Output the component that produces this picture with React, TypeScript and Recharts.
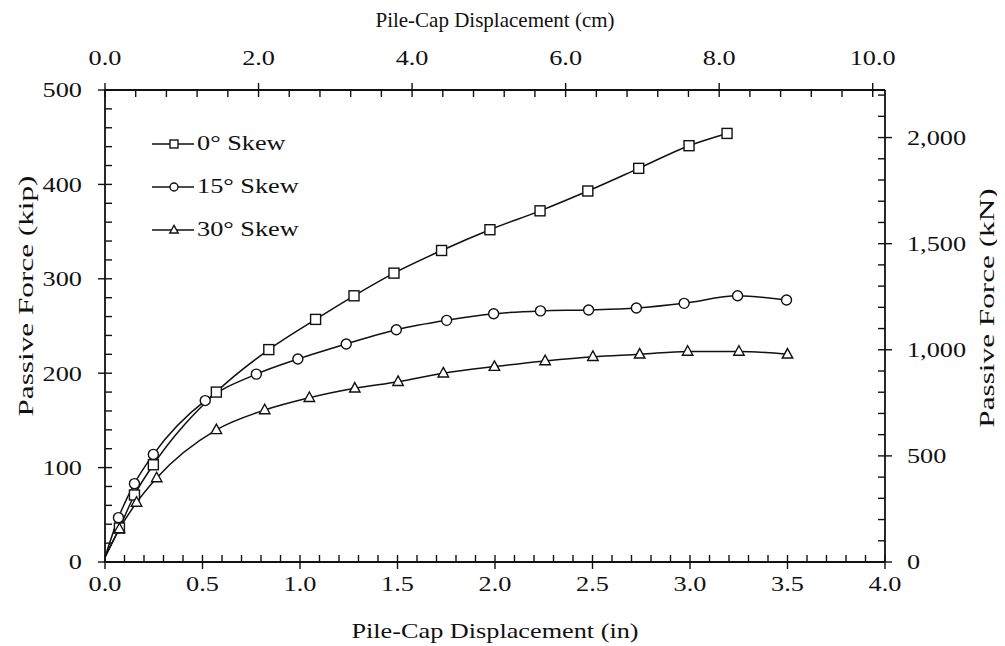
import React from 'react';
import { LineChart, Line, XAxis, YAxis, Legend, Label } from 'recharts';

// ---------------- data ----------------
const seriesNames = ['0° Skew', '15° Skew', '30° Skew'];

const skew0Disp = [0, 0.074, 0.151, 0.248, 0.571, 0.84, 1.08, 1.277, 1.482, 1.726, 1.974, 2.231, 2.476, 2.737, 2.995, 3.19];
const skew0Force = [5, 36, 71, 103, 180, 225, 257, 282, 306, 330, 352, 372, 393, 417, 441, 454];

const skew15Disp = [0, 0.069, 0.151, 0.248, 0.514, 0.776, 0.989, 1.237, 1.494, 1.752, 1.993, 2.233, 2.48, 2.725, 2.97, 3.244, 3.495];
const skew15Force = [5, 47, 83, 114, 171, 199, 215, 231, 246, 256, 263, 266, 267, 269, 274, 282, 277.5];

const skew30Disp = [0, 0.074, 0.162, 0.265, 0.571, 0.819, 1.048, 1.281, 1.503, 1.735, 1.997, 2.257, 2.502, 2.742, 2.988, 3.251, 3.5];
const skew30Force = [5, 35, 63, 89, 140, 161, 174, 184, 191, 200, 207, 213, 217.5, 220, 223, 223, 220];

const inTicks = [0, 0.5, 1, 1.5, 2, 2.5, 3, 3.5, 4];
const inMinorTicks = Array.from({ length: 41 }, (_, i) => +(i * 0.1).toFixed(2));
const cmTicks = [0, 2, 4, 6, 8, 10];
const cmMinorTicks = Array.from({ length: 26 }, (_, i) => +(i * 0.4).toFixed(2));
const cmDomainMax = 10.16; // 4 in
const kipTicks = [0, 100, 200, 300, 400, 500];
const kipMinorTicks = Array.from({ length: 26 }, (_, i) => i * 20);
const kNTicks = [0, 500, 1000, 1500, 2000];
const kNMinorTicks = Array.from({ length: 23 }, (_, i) => i * 100);
const kNDomainMax = 2224.1; // 500 kip

const titleIn = 'Pile-Cap Displacement (in)';
const titleCm = 'Pile-Cap Displacement (cm)';
const titleKip = 'Passive Force (kip)';
const titleKN = 'Passive Force (kN)';

const toRows = (xs: number[], ys: number[]) => xs.map((x, i) => ({ x, y: ys[i] }));
const series = [
  { name: seriesNames[0], shape: 'square', data: toRows(skew0Disp, skew0Force) },
  { name: seriesNames[1], shape: 'circle', data: toRows(skew15Disp, skew15Force) },
  { name: seriesNames[2], shape: 'triangle', data: toRows(skew30Disp, skew30Force) },
];

// ---------------- style ----------------
const W = 997;
const H = 638;
const FONT = '"Liberation Serif", "Times New Roman", serif';
const FS = 21;
const SX = 1.25;
const INK = '#111';

const Marker = ({ shape, cx, cy, s = 5 }: any) => {
  const common = { fill: '#fff', stroke: INK, strokeWidth: 1.4 };
  if (shape === 'square') return <rect x={cx - s} y={cy - s} width={2 * s} height={2 * s} {...common} />;
  if (shape === 'circle') return <circle cx={cx} cy={cy} r={s} {...common} />;
  return (
    <polygon
      points={`${cx},${cy - s * 1.15} ${cx + s * 1.05},${cy + s * 0.75} ${cx - s * 1.05},${cy + s * 0.75}`}
      {...common}
    />
  );
};

const makeDot = (shape: string) => (props: any) => {
  const { cx, cy, index } = props;
  if (index === 0 || cx == null || cy == null) return <g key={`${shape}-${index}`} />;
  return <Marker key={`${shape}-${index}`} shape={shape} cx={cx} cy={cy} />;
};

const STxt = ({ x, y, anchor = 'middle', dy = '0.35em', angle = 0, fs = FS, sx = SX, children }: any) => (
  <text
    transform={`translate(${x},${y}) rotate(${angle}) scale(${sx},1)`}
    textAnchor={anchor}
    dy={dy}
    fontFamily={FONT}
    fontSize={fs}
    fill={INK}
  >
    {children}
  </text>
);

const fmt1 = (v: number) => v.toFixed(1);
const fmtInt = (v: number) => String(v);
const fmtComma = (v: number) => v.toLocaleString('en-US');

const bottomTick = (p: any) => <STxt x={p.x} y={p.y} dy="0.71em">{fmt1(p.payload.value)}</STxt>;
const topTick = (p: any) => <STxt x={p.x} y={p.y} dy="0">{fmt1(p.payload.value)}</STxt>;
const leftTick = (p: any) => <STxt x={p.x} y={p.y} anchor="end">{fmtInt(p.payload.value)}</STxt>;
const rightTick = (p: any) => <STxt x={p.x} y={p.y} anchor="start">{fmtComma(p.payload.value)}</STxt>;
const noTick = () => <g />;
const blank = () => '';

const titleContent = (text: string, side: string) => (p: any) => {
  const vb = p.viewBox || {};
  if (side === 'bottom') return <STxt x={vb.x + vb.width / 2} y={vb.y + 69}>{text}</STxt>;
  if (side === 'top') return <STxt x={vb.x + vb.width / 2} y={vb.y + 12} sx={1.0}>{text}</STxt>;
  if (side === 'left')
    return <STxt x={vb.x + 17} y={vb.y + vb.height / 2 - 30} angle={-90} fs={22} sx={1.42}>{text}</STxt>;
  return <STxt x={vb.x + 101} y={vb.y + vb.height / 2 - 18} angle={-90} fs={22} sx={1.42}>{text}</STxt>;
};

const LegendContent = () => (
  <div style={{ fontFamily: FONT, fontSize: FS, color: INK, lineHeight: 1 }}>
    {series.map((s) => (
      <div key={s.name} style={{ display: 'flex', alignItems: 'center', height: 43 }}>
        <svg width={44} height={20} style={{ display: 'block' }}>
          <line x1={0} y1={10} x2={42} y2={10} stroke={INK} strokeWidth={1.5} />
          <Marker shape={s.shape} cx={22} cy={10} s={4} />
        </svg>
        <span style={{ display: 'inline-block', transform: `scaleX(${SX})`, transformOrigin: 'left center', marginLeft: 1 }}>
          {s.name}
        </span>
      </div>
    ))}
  </div>
);

const axisLine = { stroke: INK, strokeWidth: 1.8 };
const tickLine = { stroke: INK, strokeWidth: 1.4 };

export default function App() {
  return (
    <div style={{ width: W, height: H, background: '#fff' }}>
      <LineChart width={W} height={H} margin={{ top: 0, right: 0, bottom: 2, left: 0 }}>
        {/* bottom: inches */}
        <XAxis
          xAxisId="in"
          type="number"
          dataKey="x"
          domain={[0, 4]}
          ticks={inTicks}
          allowDataOverflow
          interval={0}
          orientation="bottom"
          height={82}
          tickSize={7}
          tickMargin={7}
          tick={bottomTick}
          axisLine={axisLine}
          tickLine={tickLine}
        >
          <Label content={titleContent(titleIn, 'bottom')} />
        </XAxis>
        <XAxis
          xAxisId="inMinor"
          type="number"
          dataKey="x"
          domain={[0, 4]}
          ticks={inMinorTicks}
          allowDataOverflow
          interval={0}
          orientation="bottom"
          mirror
          height={10}
          tickSize={7}
          tick={noTick}
          tickFormatter={blank}
          axisLine={false}
          tickLine={tickLine}
        />
        {/* top: cm */}
        <XAxis
          xAxisId="cm"
          type="number"
          dataKey="x"
          domain={[0, cmDomainMax]}
          ticks={cmTicks}
          allowDataOverflow
          interval={0}
          orientation="top"
          height={82}
          tickSize={7}
          tickMargin={18}
          tick={topTick}
          axisLine={axisLine}
          tickLine={tickLine}
        >
          <Label content={titleContent(titleCm, 'top')} />
        </XAxis>
        <XAxis
          xAxisId="cmMinor"
          type="number"
          dataKey="x"
          domain={[0, cmDomainMax]}
          ticks={cmMinorTicks}
          allowDataOverflow
          interval={0}
          orientation="top"
          mirror
          height={10}
          tickSize={7}
          tick={noTick}
          tickFormatter={blank}
          axisLine={false}
          tickLine={tickLine}
        />
        {/* left: kip */}
        <YAxis
          yAxisId="kip"
          type="number"
          domain={[0, 500]}
          ticks={kipTicks}
          allowDataOverflow
          interval={0}
          orientation="left"
          width={97}
          tickSize={7}
          tickMargin={16}
          tick={leftTick}
          axisLine={axisLine}
          tickLine={tickLine}
        >
          <Label content={titleContent(titleKip, 'left')} />
        </YAxis>
        <YAxis
          yAxisId="kipMinor"
          type="number"
          domain={[0, 500]}
          ticks={kipMinorTicks}
          allowDataOverflow
          interval={0}
          orientation="left"
          mirror
          width={10}
          tickSize={7}
          tick={noTick}
          tickFormatter={blank}
          axisLine={false}
          tickLine={tickLine}
        />
        {/* right: kN */}
        <YAxis
          yAxisId="kN"
          type="number"
          domain={[0, kNDomainMax]}
          ticks={kNTicks}
          allowDataOverflow
          interval={0}
          orientation="right"
          width={120}
          tickSize={7}
          tickMargin={15}
          tick={rightTick}
          axisLine={axisLine}
          tickLine={tickLine}
        >
          <Label content={titleContent(titleKN, 'right')} />
        </YAxis>
        <YAxis
          yAxisId="kNMinor"
          type="number"
          domain={[0, kNDomainMax]}
          ticks={kNMinorTicks}
          allowDataOverflow
          interval={0}
          orientation="right"
          mirror
          width={10}
          tickSize={7}
          tick={noTick}
          tickFormatter={blank}
          axisLine={false}
          tickLine={tickLine}
        />

        {series.map((s) => (
          <Line
            key={s.name}
            name={s.name}
            data={s.data}
            dataKey="y"
            xAxisId="in"
            yAxisId="kip"
            type="monotone"
            stroke={INK}
            strokeWidth={1.5}
            dot={makeDot(s.shape)}
            activeDot={false}
            isAnimationActive={false}
          />
        ))}

        <Legend
          layout="vertical"
          align="center"
          verticalAlign="middle"
          content={LegendContent}
          wrapperStyle={{ left: 144, top: 114, width: 'auto', height: 'auto' }}
        />
      </LineChart>
    </div>
  );
}
